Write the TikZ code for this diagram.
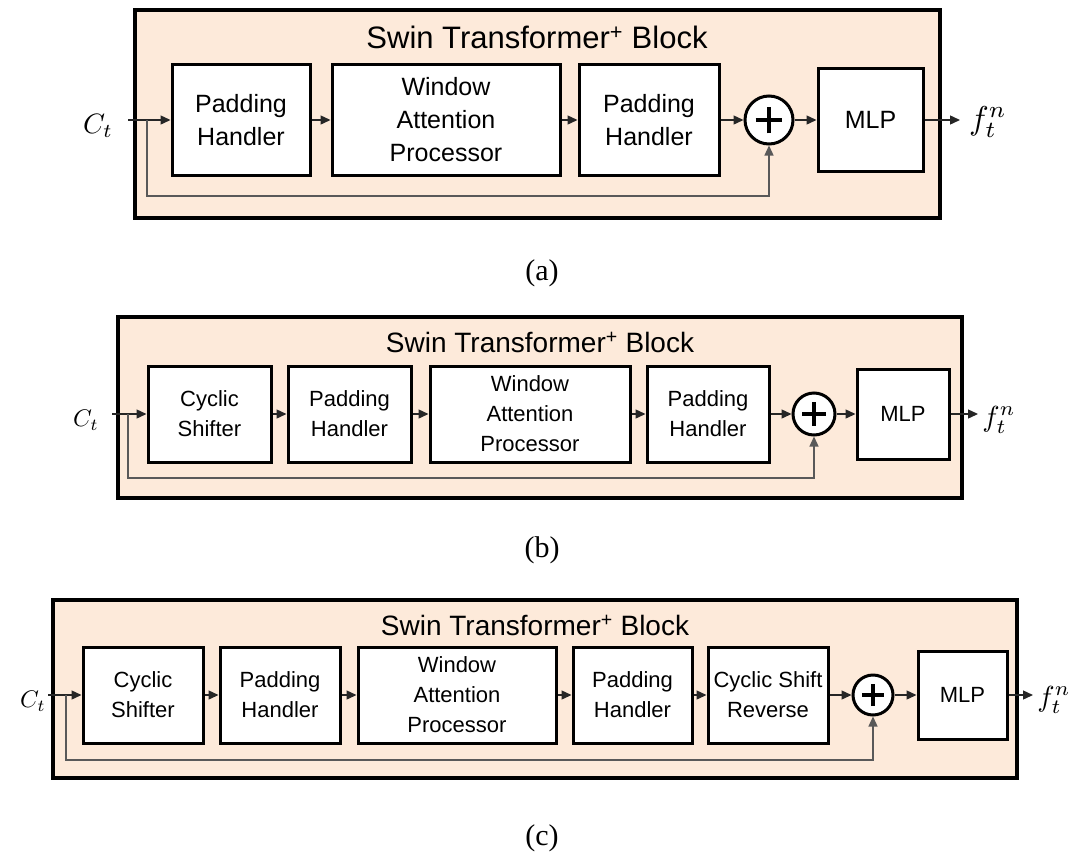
\documentclass[tikz,border=0pt]{standalone}
\usepackage{fontspec}
\setmainfont{Liberation Serif}
\setsansfont{Liberation Sans}
\usepackage{tikz}
\usetikzlibrary{positioning,arrows.meta,calc}

\definecolor{blockfill}{RGB}{253,234,218}
\newcommand{\txtA}{\fontsize{25}{33}\selectfont}
\newcommand{\txtB}{\fontsize{22}{30}\selectfont}

\tikzset{
  outer/.style={draw, line width=3.5pt, fill=blockfill, inner sep=0pt},
  blk/.style={draw, line width=3pt, fill=white, align=center, inner sep=0pt},
  boxA/.style={blk, font=\sffamily\txtA},
  boxB/.style={blk, font=\sffamily\txtB},
  sumnode/.style={draw, circle, line width=3pt, fill=white, inner sep=0pt,
    path picture={
      \draw[line width=3.5pt]
        ($(path picture bounding box.west)!0.22!(path picture bounding box.east)$) --
        ($(path picture bounding box.west)!0.78!(path picture bounding box.east)$);
      \draw[line width=3.5pt]
        ($(path picture bounding box.south)!0.22!(path picture bounding box.north)$) --
        ($(path picture bounding box.south)!0.78!(path picture bounding box.north)$);
    }},
  conn/.style={-{Triangle[length=10pt,width=9pt]}, line width=1.4pt, black!85},
  fb/.style={-{Triangle[length=10pt,width=9pt]}, line width=1.3pt, black!65},
  lbl/.style={inner sep=0pt, scale=#1},
  ttl/.style={font=\sffamily#1},
  captxt/.style={font=\fontsize{30}{30}\selectfont},
}

\begin{document}
\begin{tikzpicture}[x=1pt,y=-1pt]
  \useasboundingbox (0,0) rectangle (1072,852);

  % (a) plain block
  \node[outer, minimum width=805pt, minimum height=208pt] (aBlock) at (537.5,114) {};
  \node[ttl=\fontsize{31}{31}\selectfont] (aTitle) at (537,37) {Swin Transformer\textsuperscript{+} Block};
  \node[boxA, minimum width=138pt, minimum height=111pt] (aPad1) at (241,120) {Padding\\Handler};
  \node[boxA, minimum width=228pt, minimum height=111pt] (aWin) at (446,120) {Window\\Attention\\Processor};
  \node[boxA, minimum width=140pt, minimum height=111pt] (aPad2) at (649,120) {Padding\\Handler};
  \node[sumnode, minimum size=48pt] (aSum) at (769,120) {};
  \node[boxA, minimum width=105pt, minimum height=103pt] (aMLP) at (870.5,120) {MLP};
  \coordinate (aStart) at (128,120);
  \coordinate (aSplit) at (147,120);
  \coordinate (aBot) at (147,196);
  \coordinate (aOut) at (960,120);
  \node[lbl=2.8] (aIn) at (98,126) {$C_t$};
  \node[lbl=3.3] (aF) at (988,122) {$f_t^n$};

  \draw[conn] (aStart) -- (aPad1);
  \draw[conn] (aPad1) -- (aWin);
  \draw[conn] (aWin) -- (aPad2);
  \draw[conn] (aPad2) -- (aSum);
  \draw[conn] (aSum) -- (aMLP);
  \draw[conn] (aMLP) -- (aOut);
  \draw[fb] (aSplit) |- (aBot -| aSum) -- (aSum);
  \node[captxt] (aCap) at (542,273) {(a)};

  % (b) with cyclic shift
  \node[outer, minimum width=844pt, minimum height=181pt] (bBlock) at (540,407.5) {};
  \node[ttl=\fontsize{28}{28}\selectfont] (bTitle) at (540,342) {Swin Transformer\textsuperscript{+} Block};
  \node[boxB, minimum width=123pt, minimum height=96pt] (bCyc) at (209.5,414) {Cyclic\\Shifter};
  \node[boxB, minimum width=123pt, minimum height=96pt] (bPad1) at (349.5,414) {Padding\\Handler};
  \node[boxB, minimum width=200pt, minimum height=96pt] (bWin) at (530,414) {Window\\Attention\\Processor};
  \node[boxB, minimum width=122pt, minimum height=96pt] (bPad2) at (708,414) {Padding\\Handler};
  \node[sumnode, minimum size=42pt] (bSum) at (814,414) {};
  \node[boxB, minimum width=92pt, minimum height=90pt] (bMLP) at (903,414) {MLP};
  \coordinate (bStart) at (112,414);
  \coordinate (bSplit) at (128,414);
  \coordinate (bBot) at (128,478);
  \coordinate (bOut) at (978,414);
  \node[lbl=2.4] (bIn) at (86,420) {$C_t$};
  \node[lbl=2.9] (bF) at (999,420) {$f_t^n$};

  \draw[conn] (bStart) -- (bCyc);
  \draw[conn] (bCyc) -- (bPad1);
  \draw[conn] (bPad1) -- (bWin);
  \draw[conn] (bWin) -- (bPad2);
  \draw[conn] (bPad2) -- (bSum);
  \draw[conn] (bSum) -- (bMLP);
  \draw[conn] (bMLP) -- (bOut);
  \draw[fb] (bSplit) |- (bBot -| bSum) -- (bSum);
  \node[captxt] (bCap) at (542,550) {(b)};

  % (c) with cyclic shift and reverse
  \node[outer, minimum width=964pt, minimum height=178pt] (cBlock) at (535,689) {};
  \node[ttl=\fontsize{28}{28}\selectfont] (cTitle) at (535,625) {Swin Transformer\textsuperscript{+} Block};
  \node[boxB, minimum width=120pt, minimum height=96pt] (cCyc) at (143,695) {Cyclic\\Shifter};
  \node[boxB, minimum width=120pt, minimum height=96pt] (cPad1) at (280,695) {Padding\\Handler};
  \node[boxB, minimum width=198pt, minimum height=96pt] (cWin) at (457,695) {Window\\Attention\\Processor};
  \node[boxB, minimum width=119pt, minimum height=96pt] (cPad2) at (632.5,695) {Padding\\Handler};
  \node[boxB, minimum width=120pt, minimum height=96pt] (cRev) at (768,695) {Cyclic Shift\\Reverse};
  \node[sumnode, minimum size=40pt] (cSum) at (873,695) {};
  \node[boxB, minimum width=89pt, minimum height=88pt] (cMLP) at (962.5,695) {MLP};
  \coordinate (cStart) at (48,695);
  \coordinate (cSplit) at (66,695);
  \coordinate (cBot) at (66,760);
  \coordinate (cOut) at (1033,695);
  \node[lbl=2.4] (cIn) at (33,701) {$C_t$};
  \node[lbl=2.9] (cF) at (1054,700) {$f_t^n$};

  \draw[conn] (cStart) -- (cCyc);
  \draw[conn] (cCyc) -- (cPad1);
  \draw[conn] (cPad1) -- (cWin);
  \draw[conn] (cWin) -- (cPad2);
  \draw[conn] (cPad2) -- (cRev);
  \draw[conn] (cRev) -- (cSum);
  \draw[conn] (cSum) -- (cMLP);
  \draw[conn] (cMLP) -- (cOut);
  \draw[fb] (cSplit) |- (cBot -| cSum) -- (cSum);
  \node[captxt] (cCap) at (542,838) {(c)};
\end{tikzpicture}
\end{document}
